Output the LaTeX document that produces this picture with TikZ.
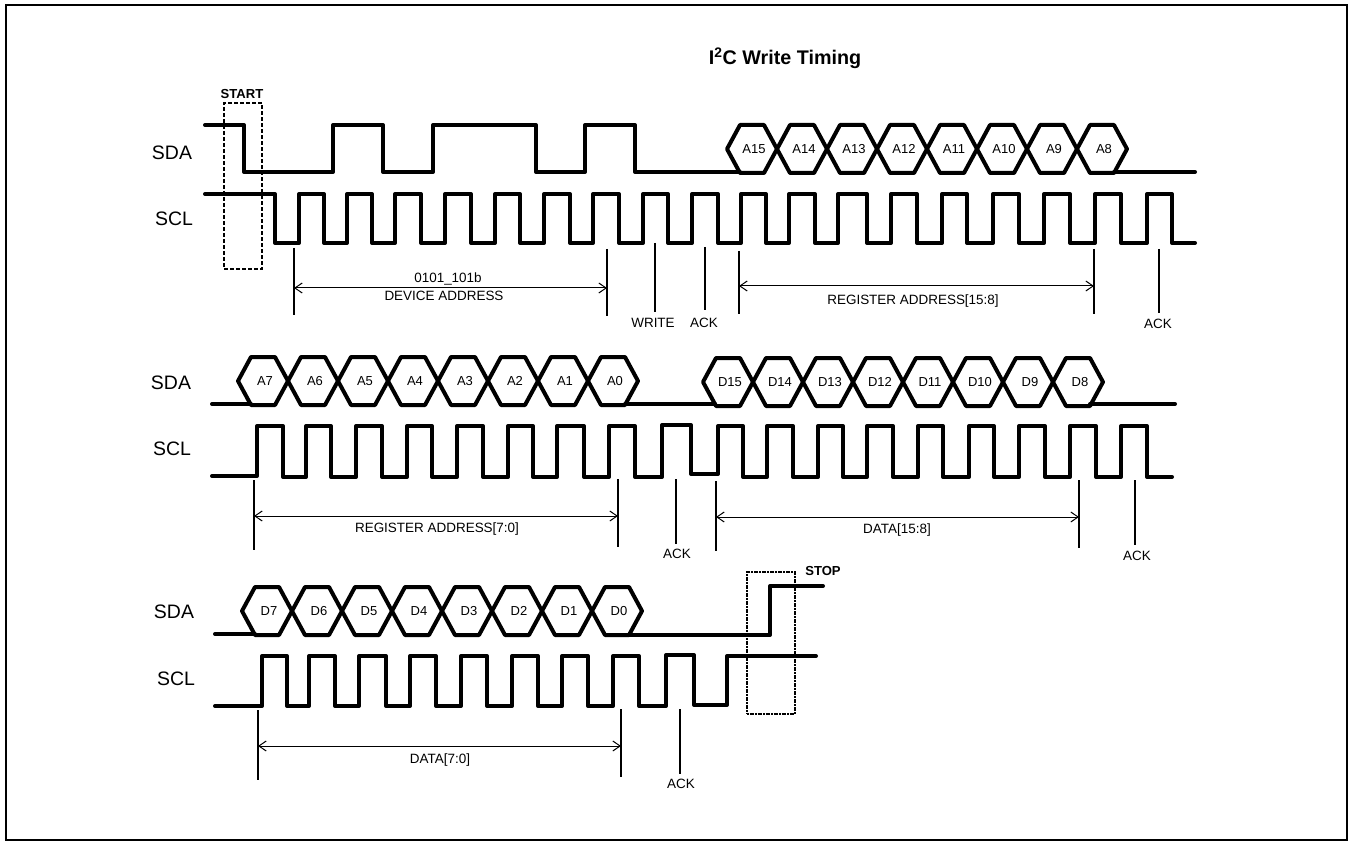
\documentclass[tikz,border=0pt]{standalone}
\usepackage{fontspec}
\setmainfont{Liberation Sans}
\usepackage{tikz}
\usetikzlibrary{arrows.meta}

\begin{document}
\begin{tikzpicture}[
  x=0.75pt, y=-0.75pt,
  wave/.style={line width=3pt, line cap=round, line join=round},
  startbox/.style={draw, line width=0.8pt, dash pattern=on 3pt off 1.5pt},
  stopbox/.style={draw, line width=1.7pt, dash pattern=on 1.5pt off 0.5pt},
  tick/.style={line width=0.95pt},
  dimarrow/.style={{Straight Barb[length=5.5pt,width=7.5pt]}-{Straight Barb[length=5.5pt,width=7.5pt]}, line width=0.75pt},
  sig/.style={font=\fontsize{14.6}{17}\selectfont, inner sep=0pt},
  cell/.style={font=\fontsize{9.75}{11}\selectfont, inner sep=0pt},
  lab/.style={font=\fontsize{10.1}{12}\selectfont, inner sep=0pt},
  flag/.style={font=\fontsize{9.8}{12}\selectfont\bfseries, inner sep=0pt},
]
\useasboundingbox (0,0) rectangle (1348,841);
\draw[line width=1.5pt] (6,5) rectangle (1347,840);

\node[font=\fontsize{14.8}{17}\selectfont\bfseries, inner sep=0pt] (title) at (785,58) {I\textsuperscript{2}C Write Timing};

% signal names
\node[sig] (sda1) at (172,153) {SDA};
\node[sig] (scl1) at (174,219) {SCL};
\node[sig] (sda2) at (171,383) {SDA};
\node[sig] (scl2) at (172,449) {SCL};
\node[sig] (sda3) at (174,612) {SDA};
\node[sig] (scl3) at (176,679) {SCL};

% first row
\draw[wave] (205,125) -- (244,125) -- (244,172) -- (333,172) -- (333,125) -- (383,125) -- (383,172)
  -- (433,172) -- (433,125) -- (536,125) -- (536,172) -- (585,172) -- (585,125) -- (635,125)
  -- (635,172) -- (740,172);
\draw[wave] (1114,172) -- (1195,172);
\draw[wave] (205,194) -- (275,194) -- (275,243)
  \foreach \r/\f in {299/324,347/372,395/421,445/471,495/520,544/570,593/619,643/668,692/718,
                     741/766,789/815,838/867,891/917,942/967,993/1019,1044/1070,1095/1121,1147/1172}
    { -- (\r,243) -- (\r,194) -- (\f,194) -- (\f,243) }
  -- (1195,243);

% second row
\draw[wave] (212,404) -- (251,404);
\draw[wave] (625,404) -- (715,404);
\draw[wave] (1090,404) -- (1175,404);
\draw[wave] (212,476) -- (257,476) -- (257,426)
  \foreach \f/\r in {283/306,331/356,382/407,432/457,483/508,533/557,584/609}
    { -- (\f,426) -- (\f,477) -- (\r,477) -- (\r,426) }
  -- (635,426) -- (635,477) -- (662,477) -- (662,425) -- (691,425) -- (691,474) -- (718,474) -- (718,426)
  \foreach \f/\r in {743/767,793/818,843/867,893/918,943/969,994/1019,1045/1070,1096/1121}
    { -- (\f,426) -- (\f,477) -- (\r,477) -- (\r,426) }
  -- (1147,426) -- (1147,477) -- (1172,477);

% third row
\draw[wave] (215,634) -- (255,634);
\draw[wave] (628,635) -- (770,635) -- (770,586) -- (823,586);
\draw[wave] (215,706) -- (262,706) -- (262,656)
  \foreach \f/\r in {287/309,335/359,386/410,436/461,487/512,538/562,588/613}
    { -- (\f,656) -- (\f,706) -- (\r,706) -- (\r,656) }
  -- (639,656) -- (639,706) -- (666,706) -- (666,655) -- (694,655) -- (694,705) -- (727,705) -- (727,656) -- (816,656);

% data cells
\foreach \n/\x/\y in {A15/727/149,A14/777/149,A13/827/149,A12/877/149,A11/927/149,A10/977/149,A9/1027/149,A8/1077/149,
                      A7/238/381,A6/288/381,A5/338/381,A4/388/381,A3/438/381,A2/488/381,A1/538/381,A0/588/381,
                      D15/703/382,D14/753/382,D13/803/382,D12/853/382,D11/903/382,D10/953/382,D9/1003/382,D8/1053/382,
                      D7/242/611,D6/292/611,D5/342/611,D4/392/611,D3/442/611,D2/492/611,D1/542/611,D0/592/611}
{
  \draw[wave] (\x,\y) -- (\x+13,\y-24) -- (\x+37,\y-24) -- (\x+50,\y) -- (\x+37,\y+24) -- (\x+13,\y+24) -- cycle;
  \node[cell] (\n) at (\x+27,\y) {\n};
}

% start and stop
\node[startbox, minimum width=28.5pt, minimum height=124.5pt, inner sep=0pt] (startarea) at (243,186) {};
\node[stopbox, minimum width=36pt, minimum height=106.5pt, inner sep=0pt] (stoparea) at (771,643) {};
\node[flag] (start) at (242,94) {START};
\node[flag] (stop) at (823,571) {STOP};

% measuring marks: name/x/top/arrow/bottom
\foreach \n/\x/\a/\m/\b in {devl/294/248/288/315, devr/607/249/288/316, regl/739/251/286/314, regr/1094/249/286/314,
                            rlol/254/480/516/550, rlor/618/479/516/547, dhil/716/481/517/551, dhir/1079/480/517/548,
                            dlol/258/710/746/780, dlor/621/709/746/777,
                            wr/655/243/280/312, ack/705/247/280/310, ackb/1159/249/280/313,
                            ackc/676/479/510/544, ackd/1135/480/510/545, acke/680/709/740/774}
{
  \coordinate (\n a) at (\x,\a);
  \coordinate (\n m) at (\x,\m);
  \coordinate (\n b) at (\x,\b);
  \draw[tick] (\n a) -- (\n b);
}
\foreach \l/\r in {devl/devr, regl/regr, rlol/rlor, dhil/dhir, dlol/dlor}
  \draw[dimarrow] (\l m) -- (\r m);

\node[lab] (devbits) at (448,279) {0101\_101b};
\node[lab] (devname) at (444,296) {DEVICE ADDRESS};
\node[lab] (write)   at (653,323) {WRITE};
\node[lab] (acktxt)  at (704,323) {ACK};
\node[lab] (reghi)   at (913,301) {REGISTER ADDRESS[15:8]};
\node[lab] (acktxtb) at (1158,324) {ACK};
\node[lab] (reglo)   at (437,529) {REGISTER ADDRESS[7:0]};
\node[lab] (acktxtc) at (677,554) {ACK};
\node[lab] (datahi)  at (897,530) {DATA[15:8]};
\node[lab] (acktxtd) at (1137,556) {ACK};
\node[lab] (datalo)  at (440,760) {DATA[7:0]};
\node[lab] (acktxte) at (681,784) {ACK};

\end{tikzpicture}
\end{document}
